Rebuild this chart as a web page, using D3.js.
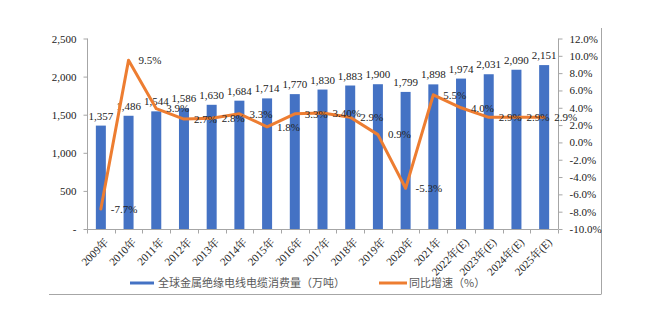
<!DOCTYPE html>
<html><head><meta charset="utf-8">
<script src="https://cdn.jsdelivr.net/npm/d3@7"></script>
<style>body{margin:0;background:#fff}svg{display:block}</style>
</head><body>
<svg id="c" width="648" height="322"></svg>
<script>
const categories = ["2009年","2010年","2011年","2012年","2013年","2014年","2015年","2016年","2017年","2018年","2019年","2020年","2021年","2022年(E)","2023年(E)","2024年(E)","2025年(E)"];
const consumption = [1357,1486,1544,1586,1630,1684,1714,1770,1830,1883,1900,1799,1898,1974,2031,2090,2151];
const growth = [-7.7,9.5,3.9,2.7,2.8,3.3,1.8,3.3,3.4,2.9,0.9,-5.3,5.5,4.0,2.9,2.9,2.9];
const growthLabels = ["-7.7%","9.5%","3.9%","2.7%","2.8%","3.3%","1.8%","3.3%","3.40%","2.9%","0.9%","-5.3%","5.5%","4.0%","2.9%","2.9%","2.9%"];
const leftTicks = [0,500,1000,1500,2000,2500];
const rightTicks = [-10,-8,-6,-4,-2,0,2,4,6,8,10,12];
const seriesNames = ["全球金属绝缘电线电缆消费量（万吨）","同比增速（%）"];

const svg = d3.select("#c");
const serif = "'Liberation Serif','Times New Roman','Noto Serif CJK SC','Noto Sans CJK SC',serif";
const sans = "'Noto Sans CJK SC','Noto Sans',sans-serif";
const axisCol = "#a6a6a6";
const blue = "#4472C4", orange = "#ED7D31";

const x = d3.scaleBand().domain(categories).range([87,558]).padding(0);
const yL = d3.scaleLinear().domain([0,2500]).range([229,38.5]);
const yR = d3.scaleLinear().domain([-10,12]).range([229,38.5]);

// frame (L-shape)
svg.append("line").attr("x1",49).attr("x2",601).attr("y1",294.5).attr("y2",294.5).attr("stroke",axisCol).attr("stroke-width",1);
svg.append("line").attr("x1",601.5).attr("x2",601.5).attr("y1",28).attr("y2",294.5).attr("stroke",axisCol).attr("stroke-width",1);

// left axis
const gl = svg.append("g").attr("transform","translate(87.5,0)")
  .call(d3.axisLeft(yL).tickValues(leftTicks).tickSize(4).tickPadding(7)
    .tickFormat(d => d===0 ? "-" : d3.format(",")(d)));
gl.select(".domain").attr("stroke",axisCol).attr("d","M0,38.5V229");
gl.selectAll(".tick line").attr("stroke",axisCol);
gl.selectAll("text").attr("font-family",serif).attr("font-size",11).attr("fill","#222");

// right axis
const gr = svg.append("g").attr("transform","translate(558.5,0)")
  .call(d3.axisRight(yR).tickValues(rightTicks).tickSize(4).tickPadding(7)
    .tickFormat(d => d.toFixed(1)+"%"));
gr.select(".domain").attr("stroke",axisCol).attr("d","M0,38.5V229");
gr.selectAll(".tick line").attr("stroke",axisCol);
gr.selectAll("text").attr("font-family",serif).attr("font-size",11).attr("fill","#222");

// bottom axis
const gb = svg.append("g").attr("transform","translate(0,229.5)");
gb.append("line").attr("x1",87).attr("x2",558).attr("stroke",axisCol);
const bounds = categories.map(c => x(c)).concat([x.range()[1]]);
gb.selectAll("line.t").data(bounds).join("line").attr("class","t")
  .attr("x1",d=>Math.round(d)+0.5).attr("x2",d=>Math.round(d)+0.5).attr("y1",0).attr("y2",4).attr("stroke",axisCol);
gb.selectAll("text").data(categories).join("text")
  .attr("transform", d => `translate(${x(d)+x.bandwidth()/2+3},${8}) rotate(-45)`)
  .attr("text-anchor","end").attr("dy","0.7em")
  .attr("font-family",serif).attr("font-size",11).attr("fill","#222")
  .text(d=>d);

// bars
const bw = 10;
svg.selectAll("rect.bar").data(consumption).join("rect").attr("class","bar")
  .attr("x",(d,i)=>x(categories[i])+x.bandwidth()/2-bw/2)
  .attr("width",bw)
  .attr("y",d=>yL(d)).attr("height",d=>yL(0)-yL(d))
  .attr("fill",blue);

// bar labels
svg.selectAll("text.bl").data(consumption).join("text").attr("class","bl")
  .attr("x",(d,i)=>x(categories[i])+x.bandwidth()/2)
  .attr("y",d=>yL(d)-6)
  .attr("text-anchor","middle").attr("font-family",serif).attr("font-size",11).attr("fill","#222")
  .text(d=>d3.format(",")(d));

// line
const line = d3.line().x((d,i)=>x(categories[i])+x.bandwidth()/2).y(d=>yR(d));
svg.append("path").datum(growth).attr("d",line).attr("fill","none")
  .attr("stroke",orange).attr("stroke-width",3).attr("stroke-linejoin","round").attr("stroke-linecap","round");

// line labels
svg.selectAll("text.gl").data(growth).join("text").attr("class","gl")
  .attr("x",(d,i)=>x(categories[i])+x.bandwidth()/2+10)
  .attr("y",d=>yR(d)).attr("dy","0.35em")
  .attr("font-family",serif).attr("font-size",11).attr("fill","#222")
  .text((d,i)=>growthLabels[i]);

// legend
const lg = svg.append("g");
lg.append("line").attr("x1",130).attr("x2",154).attr("y1",283).attr("y2",283).attr("stroke",blue).attr("stroke-width",3);
lg.append("text").attr("x",158).attr("y",283).attr("dy","0.35em").attr("font-family",sans).attr("font-size",11).attr("fill","#595959").text(seriesNames[0]);
lg.append("line").attr("x1",379).attr("x2",407).attr("y1",283).attr("y2",283).attr("stroke",orange).attr("stroke-width",3);
lg.append("text").attr("x",409).attr("y",283).attr("dy","0.35em").attr("font-family",sans).attr("font-size",11).attr("fill","#595959").text(seriesNames[1]);
</script>
</body></html>
